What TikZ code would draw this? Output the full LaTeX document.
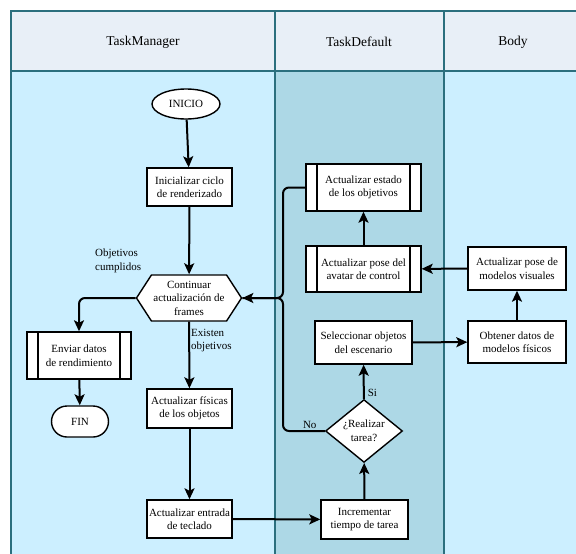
\documentclass[tikz,border=0pt]{standalone}
\usepackage{fontspec}
\setmainfont{Liberation Serif}
\usetikzlibrary{arrows.meta, shapes.geometric, shapes.misc, shapes.symbols}

\definecolor{headfill}{HTML}{E8EFF7}
\definecolor{lanelight}{HTML}{CCEFFF}
\definecolor{lanedark}{HTML}{ADD8E6}
\definecolor{laneline}{HTML}{2B6F7E}

\newcommand{\boxfont}{\rmfamily\fontsize{11}{13.5}\selectfont}
\newcommand{\headfont}{\rmfamily\fontsize{13.5}{16}\selectfont}

\tikzset{
    procbox/.style={rectangle, draw, fill=white, line width=1.4pt, align=center, font=\boxfont, inner sep=2pt},
    subproc/.style={procbox,
        path picture={
            \draw[line width=1.4pt] ([xshift=11pt]path picture bounding box.north west) -- ([xshift=11pt]path picture bounding box.south west);
            \draw[line width=1.4pt] ([xshift=-11pt]path picture bounding box.north east) -- ([xshift=-11pt]path picture bounding box.south east);
        }},
    termbox/.style={procbox, ellipse},
    endbox/.style={procbox, rounded rectangle},
    hexbox/.style={procbox, signal, signal to=west and east, signal pointer angle=114},
    decbox/.style={procbox, diamond},
    flow/.style={line width=2pt, -{Stealth[length=11pt,width=10pt,inset=2.5pt]}, rounded corners=6pt},
    plain/.style={line width=2pt, rounded corners=6pt},
    lbl/.style={font=\boxfont, align=left, inner sep=1pt},
}

\begin{document}
\begin{tikzpicture}[x=1pt, y=-1pt]
    \useasboundingbox (0,0) rectangle (576,554);

    % pool
    \fill[lanelight] (11,71) rectangle (275,560);
    \fill[lanedark] (275,71) rectangle (444,560);
    \fill[lanelight] (444,71) rectangle (580,560);
    \fill[headfill] (11,11) rectangle (580,71);
    \draw[laneline, line width=1.4pt] (580,11) -- (11,11) -- (11,560);
    \draw[laneline, line width=1.4pt] (11,71) -- (580,71);
    \draw[laneline, line width=1.4pt] (275,11) -- (275,560);
    \draw[laneline, line width=1.4pt] (444,11) -- (444,560);

    \node[font=\headfont] (hmanager) at (143,42) {TaskManager};
    \node[font=\headfont] (hdefault) at (359,42) {TaskDefault};
    \node[font=\headfont] (hbody) at (513,42) {Body};

    % TaskManager
    \node[termbox, minimum width=68pt, minimum height=30pt] (inicio) at (186,104) {INICIO};
    \node[procbox, minimum width=85pt, minimum height=38pt] (inicializar) at (189.5,187) {Inicializar ciclo\\de renderizado};
    \node[hexbox, minimum width=92pt, minimum height=46pt] (cont) at (189,298) {Continuar\\actualización de\\frames};
    \node[subproc, minimum width=104pt, minimum height=47pt] (enviar) at (79,355.5) {Enviar datos\\de rendimiento};
    \node[endbox, minimum width=61pt, minimum height=31pt] (fin) at (80,421.5) {FIN};
    \node[procbox, minimum width=85pt, minimum height=39pt] (fisicas) at (189.5,408.5) {Actualizar físicas\\de los objetos};
    \node[procbox, minimum width=85pt, minimum height=38pt] (entrada) at (189.5,519) {Actualizar entrada\\de teclado};
    \node[lbl, anchor=west] (cumplidos) at (94,261) {Objetivos\\cumplidos};

    % TaskDefault
    \node[subproc, minimum width=115pt, minimum height=47pt] (estado) at (363.5,187.5) {Actualizar estado\\de los objetivos};
    \node[subproc, minimum width=115pt, minimum height=46pt] (avatar) at (363.5,269) {Actualizar pose del\\avatar de control};
    \node[procbox, minimum width=97pt, minimum height=43pt] (seleccionar) at (363.5,342.5) {Seleccionar objetos\\del escenario};
    \node[decbox, minimum width=77pt, minimum height=62pt, inner sep=0pt] (realizar) at (364,431) {¿Realizar\\tarea?};
    \node[procbox, minimum width=87pt, minimum height=39pt] (incrementar) at (364.5,519.5) {Incrementar\\tiempo de tarea};
    \coordinate (junta) at (283,298);

    % Body
    \node[procbox, minimum width=98pt, minimum height=43pt] (visuales) at (517,268.5) {Actualizar pose de\\modelos visuales};
    \node[procbox, minimum width=98pt, minimum height=42pt] (obtener) at (517,342) {Obtener datos de\\modelos físicos};

    % connectors
    \draw[flow] (inicio) -- (inicializar);
    \draw[flow] (inicializar) -- (cont);
    \draw[flow] (cont.west) -| (enviar.north);
    \draw[flow] (enviar) -- (fin);
    \draw[flow] (cont) -- node[lbl, right, pos=0.28] {Existen\\objetivos} (fisicas);
    \draw[flow] (fisicas) -- (entrada);
    \draw[flow] (entrada) -- (incrementar);
    \draw[flow] (incrementar) -- (realizar);
    \draw[flow] (realizar) -- node[lbl, pos=0, above right, xshift=2pt] {Si} (seleccionar);
    \draw[flow] (seleccionar) -- (obtener);
    \draw[flow] (obtener) -- (visuales);
    \draw[flow] (visuales) -- (avatar);
    \draw[flow] (avatar) -- (estado);
    \draw[flow] (estado.west) -| (junta) -- (cont.east);
    \draw[plain] (realizar.west) -| node[lbl, pos=0.18, above] {No} (junta) -- (cont.east);
\end{tikzpicture}
\end{document}
